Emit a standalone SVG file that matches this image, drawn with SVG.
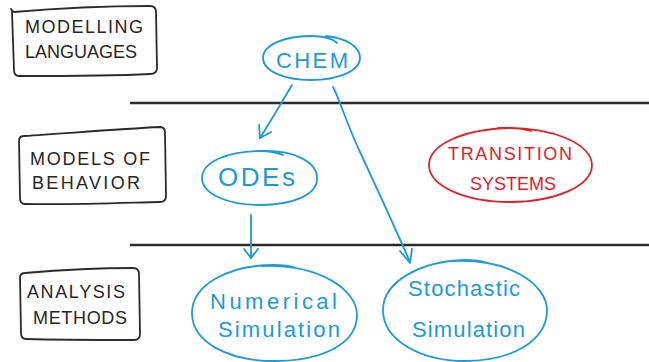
<svg xmlns="http://www.w3.org/2000/svg" width="649" height="362" viewBox="0 0 649 362">
  <style>
    .ink { fill: none; stroke: #2b2b2b; stroke-width: 1.8; stroke-linecap: round; stroke-linejoin: round; }
    .rule { fill: none; stroke: #2b2b2b; stroke-width: 2.6; }
    .blue { fill: none; stroke: #1b9bd7; stroke-width: 1.8; stroke-linecap: round; stroke-linejoin: round; }
    .red { fill: none; stroke: #e3202c; stroke-width: 1.8; stroke-linecap: round; stroke-linejoin: round; }
    text { font-family: "Liberation Sans", "DejaVu Sans", sans-serif; }
    .cap { fill: #262626; font-size: 18px; }
    .btxt { fill: #1b9bd7; font-size: 22px; }
    .rtxt { fill: #e3202c; font-size: 18px; }
  </style>

  <!-- layer separators -->
  <g id="rules">
    <line class="rule" x1="130" y1="103" x2="649" y2="103"/>
    <line class="rule" x1="130" y1="245" x2="649" y2="245"/>
  </g>

  <!-- layer labels -->
  <g id="label-modelling">
    <path class="ink" d="M 11 9 Q 12 11 14 12 C 60 8 110 6 150 6 Q 156 6 156 12 L 157 68 Q 157 74 150 74 C 110 76 60 76 19 76 Q 14 76 14 70 L 12 12"/>
    <text class="cap" x="25" y="33" textLength="118">MODELLING</text>
    <text class="cap" x="25" y="58" textLength="112">LANGUAGES</text>
  </g>
  <g id="label-behavior">
    <path class="ink" d="M 24 136 C 70 133 120 129 160 127 Q 165 127 165 133 L 166 196 Q 166 202 160 202 C 120 203 70 205 25 204 Q 20 204 20 198 L 19 141 Q 19 136 24 136"/>
    <text class="cap" x="30" y="165" textLength="120">MODELS OF</text>
    <text class="cap" x="32" y="189" textLength="108">BEHAVIOR</text>
  </g>
  <g id="label-analysis">
    <path class="ink" d="M 25 273 C 60 270 100 268 133 268 Q 139 268 139 274 L 140 334 Q 140 340 134 340 C 100 340 60 340 26 339 Q 21 339 21 333 L 20 278 Q 20 273 25 273"/>
    <text class="cap" x="27" y="298" textLength="98">ANALYSIS</text>
    <text class="cap" x="33" y="324" textLength="94">METHODS</text>
  </g>

  <!-- connectors -->
  <g id="connectors">
    <path class="blue" d="M 292 85 C 282 102 270 122 260 138"/>
    <path class="blue" d="M 259 125 L 260 138 L 271 132"/>
    <path class="blue" d="M 333 87 C 340 100 346 122 360 152 C 380 195 396 230 410 262"/>
    <path class="blue" d="M 400 251 L 410 263 L 412 249"/>
    <path class="blue" d="M 251 215 L 251 257"/>
    <path class="blue" d="M 244 249 L 251 258 L 258 249"/>
  </g>

  <!-- nodes -->
  <g id="chem">
    <path class="blue" d="M 326 36 C 345 38 360 46 360 58 C 360 71 338 80 311 80 C 284 80 263 71 263 58 C 263 45 284 36 311 36 C 322 36 332 38 337 43"/>
    <text class="btxt" x="276" y="68" textLength="72">CHEM</text>
  </g>
  <g id="odes">
    <path class="blue" d="M 262 151 C 294 150 317 162 317 178 C 318 195 292 205 260 205 C 228 205 202 194 202 178 C 202 162 228 151 260 151 C 268 151 276 152 283 155"/>
    <text class="btxt" x="218" y="186" textLength="77" style="font-size:26px">ODEs</text>
  </g>
  <g id="transition-systems">
    <path class="red" d="M 498 128 C 555 126 592 145 592 165 C 592 186 555 202 510 202 C 465 202 429 186 429 165 C 429 144 465 129 510 128 C 518 128 525 129 531 131"/>
    <text class="rtxt" x="448" y="160" textLength="124">TRANSITION</text>
    <text class="rtxt" x="470" y="190" textLength="86">SYSTEMS</text>
  </g>
  <g id="numerical-simulation">
    <path class="blue" d="M 262 266 C 320 264 357 290 357 315 C 357 345 320 361 274 361 C 228 361 192 342 192 313 C 192 285 228 265 274 265 C 282 265 290 266 296 268"/>
    <text class="btxt" x="210" y="309" textLength="127">Numerical</text>
    <text class="btxt" x="218" y="337" textLength="122">Simulation</text>
  </g>
  <g id="stochastic-simulation">
    <path class="blue" d="M 452 261 C 510 258 547 285 547 310 C 547 342 510 361 465 361 C 420 361 383 340 383 310 C 383 282 420 261 465 260 C 473 260 481 261 488 263"/>
    <text class="btxt" x="408" y="296" textLength="112">Stochastic</text>
    <text class="btxt" x="412" y="337" textLength="113">Simulation</text>
  </g>
</svg>
